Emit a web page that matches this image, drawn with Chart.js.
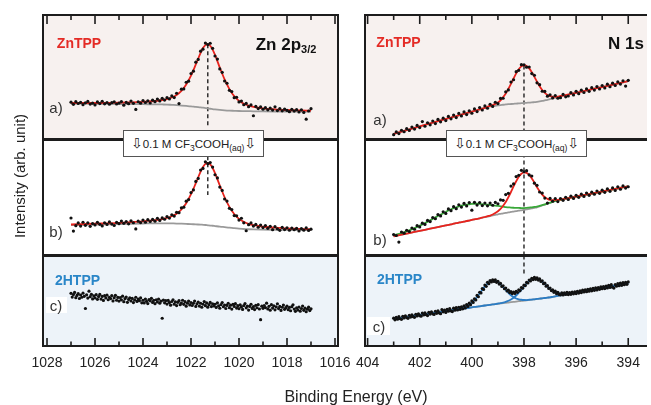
<!DOCTYPE html>
<html>
<head>
<meta charset="utf-8">
<script src="https://cdn.jsdelivr.net/npm/chart.js@4.4.1/dist/chart.umd.min.js"></script>
<style>
  body { margin: 0; background: #fff; }
  #fig { position: relative; width: 651px; height: 405px; overflow: hidden;
         font-family: "Liberation Sans", Arial, Helvetica, sans-serif; color: #222; }
  canvas { position: absolute; top: 0; }
  #leftChart { left: 0; }
  #rightChart { left: 345px; }
  .t { position: absolute; transform: translate(-50%, -50%); white-space: nowrap; line-height: 1; }
  .zn { color: #e42b25; font-weight: bold; font-size: 14px; }
  .h2 { color: #2a86c8; font-weight: bold; font-size: 14px; }
  .core { font-weight: bold; font-size: 17px; color: #111; }
  .core sub { font-size: 11px; vertical-align: -3px; line-height: 0; }
  .lab { font-size: 15px; color: #333; }
  .wbox { position: absolute; background: #fff; }
  .note { position: absolute; width: 141px; height: 27px; box-sizing: border-box; border: 1px solid #555;
          background: #fff; display: flex; align-items: center; justify-content: center;
          font-size: 11.5px; color: #222; white-space: nowrap; }
  .note span.txt { display: inline-block; line-height: 14px; }
  .note sub { font-size: 8.5px; vertical-align: -3px; line-height: 0; }
  .note .arr { font-family: "DejaVu Sans", sans-serif; font-size: 14px; }
</style>
</head>
<body>
<div id="fig">
  <canvas id="leftChart" width="360" height="405"></canvas>
  <canvas id="rightChart" width="306" height="405"></canvas>

  <div class="t zn" style="left:79px; top:42.5px;">ZnTPP</div>
  <div class="t core" style="left:286px; top:44px;">Zn 2p<sub>3/2</sub></div>
  <div class="t zn" style="left:398.5px; top:42px;">ZnTPP</div>
  <div class="t core" style="left:626px; top:43px;">N 1s</div>
  <div class="t h2" style="left:77.5px; top:280px;">2HTPP</div>
  <div class="t h2" style="left:399.5px; top:278.5px;">2HTPP</div>

  <div class="t lab" style="left:56px; top:107px;">a)</div>
  <div class="t lab" style="left:56px; top:231px;">b)</div>
  <div class="wbox" style="left:46px; top:297px; width:21px; height:16px;"></div>
  <div class="t lab" style="left:56px; top:305px;">c)</div>
  <div class="t lab" style="left:380px; top:119px;">a)</div>
  <div class="t lab" style="left:380px; top:239px;">b)</div>
  <div class="wbox" style="left:367px; top:317px; width:23px; height:18px;"></div>
  <div class="t lab" style="left:379px; top:325.5px;">c)</div>

  <div class="note" style="left:123px; top:130px;"><span class="txt"><span class="arr">⇩</span>0.1 M CF<sub>3</sub>COOH<sub>(aq)</sub><span class="arr">⇩</span></span></div>
  <div class="note" style="left:446px; top:130px;"><span class="txt"><span class="arr">⇩</span>0.1 M CF<sub>3</sub>COOH<sub>(aq)</sub><span class="arr">⇩</span></span></div>

  <div class="t" style="left:19px; top:176px; font-size:15px; transform:translate(-50%,-50%) rotate(-90deg);">Intensity (arb. unit)</div>
  <div class="t" style="left:356px; top:397px; font-size:16px;">Binding Energy (eV)</div>
</div>

<script>
const FONT = "'Liberation Sans', Arial, Helvetica, sans-serif";

// ---------- Zn 2p3/2 (left column) ----------
const znMajor = [1016, 1018, 1020, 1022, 1024, 1026, 1028];
const znMinor = [1017, 1019, 1021, 1023, 1025, 1027];

const znEnergy = [
  1027.0,1026.9,1026.8,1026.7,1026.6,1026.5,1026.4,1026.3,1026.2,1026.1,
  1026.0,1025.9,1025.8,1025.7,1025.6,1025.5,1025.4,1025.3,1025.2,1025.1,
  1025.0,1024.9,1024.8,1024.7,1024.6,1024.5,1024.4,1024.3,1024.2,1024.1,
  1024.0,1023.9,1023.8,1023.7,1023.6,1023.5,1023.4,1023.3,1023.2,1023.1,
  1023.0,1022.9,1022.8,1022.7,1022.6,1022.5,1022.4,1022.3,1022.2,1022.1,
  1022.0,1021.9,1021.8,1021.7,1021.6,1021.5,1021.4,1021.3,1021.2,1021.1,
  1021.0,1020.9,1020.8,1020.7,1020.6,1020.5,1020.4,1020.3,1020.2,1020.1,
  1020.0,1019.9,1019.8,1019.7,1019.6,1019.5,1019.4,1019.3,1019.2,1019.1,
  1019.0,1018.9,1018.8,1018.7,1018.6,1018.5,1018.4,1018.3,1018.2,1018.1,
  1018.0,1017.9,1017.8,1017.7,1017.6,1017.5,1017.4,1017.3,1017.2,1017.1,
  1017.0
];
// a) ZnTPP
const znA = [
  38.5,36.2,39.0,37.1,38.3,35.9,37.8,39.2,36.5,37.4,
  35.6,38.7,37.0,39.4,36.8,38.1,36.3,37.9,38.8,36.6,
  37.5,39.1,35.4,38.2,36.9,39.6,37.3,31.0,38.9,37.4,
  40.2,38.1,39.8,37.6,40.5,39.0,41.6,39.7,42.4,40.6,
  43.1,41.8,44.9,43.2,47.6,37.0,51.8,52.1,58.9,60.0,
  67.9,70.3,79.5,82.4,90.8,92.9,99.2,97.6,99.0,93.8,
  85.9,82.7,72.6,69.1,60.2,57.9,50.6,49.3,43.1,43.5,
  38.7,39.6,35.8,37.2,33.8,35.6,24.5,34.1,31.9,33.6,
  31.2,32.8,30.6,32.4,30.3,33.7,29.8,31.9,29.6,31.4,
  30.0,28.7,31.1,29.3,30.8,28.4,30.6,27.9,21.0,29.4,
  31.8
];
// b) ZnTPP after CF3COOH
const znB = [
  38.5,25.0,30.6,33.4,30.2,34.1,31.0,33.5,29.9,32.8,
  31.4,34.0,32.0,30.3,33.6,31.9,34.5,32.2,30.8,34.0,
  32.7,35.3,33.0,34.9,32.5,35.6,33.6,27.3,35.2,33.8,
  36.4,34.1,36.8,34.9,37.0,35.2,38.1,36.0,38.6,37.2,
  39.9,38.4,41.7,40.5,44.3,44.0,48.9,49.6,55.8,57.4,
  64.6,67.3,76.0,79.1,87.8,89.4,96.2,94.3,95.4,90.8,
  82.9,79.6,70.2,66.8,58.0,55.9,48.4,47.1,41.0,40.7,
  36.3,38.2,33.5,25.4,31.6,33.4,30.2,31.9,29.0,31.2,
  28.6,30.8,27.9,29.9,26.5,29.6,27.4,25.8,28.9,26.6,
  28.4,25.9,28.1,26.4,27.8,25.2,27.6,26.0,28.3,25.7,
  27.0
];
// c) 2HTPP
const znEnergyC = [
  1027,1026.95,1026.9,1026.85,1026.8,1026.75,1026.7,1026.65,1026.6,1026.55,1026.5,1026.45,1026.4,1026.35,1026.3,1026.25,1026.2,1026.15,1026.1,1026.05,
  1026,1025.95,1025.9,1025.85,1025.8,1025.75,1025.7,1025.65,1025.6,1025.55,1025.5,1025.45,1025.4,1025.35,1025.3,1025.25,1025.2,1025.15,1025.1,1025.05,
  1025,1024.95,1024.9,1024.85,1024.8,1024.75,1024.7,1024.65,1024.6,1024.55,1024.5,1024.45,1024.4,1024.35,1024.3,1024.25,1024.2,1024.15,1024.1,1024.05,
  1024,1023.95,1023.9,1023.85,1023.8,1023.75,1023.7,1023.65,1023.6,1023.55,1023.5,1023.45,1023.4,1023.35,1023.3,1023.25,1023.2,1023.15,1023.1,1023.05,
  1023,1022.95,1022.9,1022.85,1022.8,1022.75,1022.7,1022.65,1022.6,1022.55,1022.5,1022.45,1022.4,1022.35,1022.3,1022.25,1022.2,1022.15,1022.1,1022.05,
  1022,1021.95,1021.9,1021.85,1021.8,1021.75,1021.7,1021.65,1021.6,1021.55,1021.5,1021.45,1021.4,1021.35,1021.3,1021.25,1021.2,1021.15,1021.1,1021.05,
  1021,1020.95,1020.9,1020.85,1020.8,1020.75,1020.7,1020.65,1020.6,1020.55,1020.5,1020.45,1020.4,1020.35,1020.3,1020.25,1020.2,1020.15,1020.1,1020.05,
  1020,1019.95,1019.9,1019.85,1019.8,1019.75,1019.7,1019.65,1019.6,1019.55,1019.5,1019.45,1019.4,1019.35,1019.3,1019.25,1019.2,1019.15,1019.1,1019.05,
  1019,1018.95,1018.9,1018.85,1018.8,1018.75,1018.7,1018.65,1018.6,1018.55,1018.5,1018.45,1018.4,1018.35,1018.3,1018.25,1018.2,1018.15,1018.1,1018.05,
  1018,1017.95,1017.9,1017.85,1017.8,1017.75,1017.7,1017.65,1017.6,1017.55,1017.5,1017.45,1017.4,1017.35,1017.3,1017.25,1017.2,1017.15,1017.1,1017.05,
  1017
];
const znC = [
  54.1,50.3,52.8,55.0,49.6,51.9,53.7,48.8,52.4,50.1,54.3,51.0,38.5,52.6,49.2,56.3,50.7,53.1,48.4,51.6,
  49.5,52.7,47.9,50.8,53.0,48.2,50.9,46.8,51.7,49.3,52.2,47.5,50.0,48.7,51.8,46.3,49.6,52.1,47.0,49.9,
  46.1,49.8,47.4,51.2,45.5,48.6,50.3,44.9,47.8,49.5,46.2,48.9,44.6,47.3,50.1,45.8,48.2,46.6,49.4,44.3,
  47.0,44.2,48.3,45.9,43.6,47.7,46.4,49.0,44.8,46.9,43.5,47.5,45.2,48.1,43.9,46.0,28.5,47.2,44.4,46.7,
  43.1,46.8,44.6,41.9,45.7,47.4,43.0,45.3,41.5,44.9,46.6,42.4,44.1,47.0,42.8,45.5,40.9,44.0,46.2,42.2,
  44.7,41.6,43.8,46.1,40.7,43.3,45.2,41.0,43.9,39.8,42.9,45.6,41.4,44.2,39.9,42.6,44.8,40.5,43.4,41.1,
  42.9,39.6,44.3,41.2,38.8,42.5,44.6,40.3,42.0,38.5,41.7,43.9,39.4,41.9,37.9,42.8,40.6,43.5,39.0,41.4,
  38.3,42.2,40.1,37.6,41.5,43.6,39.2,41.0,36.9,40.7,42.9,38.6,40.4,37.4,41.8,39.3,42.4,38.0,27.0,40.9,
  38.7,41.6,39.5,44.0,38.1,40.8,36.8,42.5,39.0,41.3,37.2,40.2,43.4,38.4,40.6,36.5,39.8,42.0,37.7,39.4,
  41.0,37.3,39.6,36.2,40.4,42.3,37.9,35.6,39.1,37.0,40.0,35.8,38.5,41.1,36.6,38.9,35.2,37.8,39.9,36.4,
  38.2
];
// fitted envelopes and Shirley backgrounds
const znFitEnergy = [1027,1026,1025,1024.5,1024,1023.6,1023.2,1023,1022.8,1022.6,1022.4,1022.2,1022,1021.8,1021.6,1021.5,1021.4,1021.3,1021.2,1021.1,1021,1020.8,1020.6,1020.4,1020.2,1020,1019.8,1019.6,1019.4,1019,1018.5,1018,1017.5,1017];
const znAFit = [37.6,37.6,37.9,38.2,38.7,39.4,40.7,41.7,43.3,45.8,50.0,56.6,65.8,77.2,89.2,94.0,97.1,98.0,96.4,92.5,87.1,74.0,61.8,51.9,44.6,39.8,36.9,34.9,33.7,32.1,31.1,30.4,30.0,29.7];
const znABg  = [37.0,36.8,36.6,36.5,36.4,36.2,36.1,36.0,35.7,35.4,35.0,34.6,34.2,33.6,33.1,32.8,32.4,32.0,31.7,31.3,31.0,30.5,30.1,29.8,29.6,29.4,29.3,29.2,29.1,29.0,28.9,28.8,28.75,28.7];
const znBFit = [31.8,32.6,33.5,34.2,35.1,36.0,37.4,38.5,40.3,42.9,47.2,53.7,62.9,74.2,86.1,90.9,94.1,95.0,93.5,89.9,84.6,71.9,59.8,49.9,42.6,37.6,34.6,32.4,31.1,29.5,28.5,27.7,27.3,26.9];
const znBBg  = [31.3,31.8,32.3,32.55,32.8,33.0,33.0,33.0,32.9,32.8,32.6,32.4,32.2,31.9,31.7,31.5,31.3,31.0,30.7,30.5,30.2,29.6,29.1,28.6,28.0,27.5,27.2,26.9,26.7,26.5,26.35,26.2,26.1,26.0];
const znPeak = 1021.3;

// ---------- N 1s (right column) ----------
const nMajor = [394, 396, 398, 400, 402, 404];
const nMinor = [395, 397, 399, 401, 403];

const nEnergy = [
  403.0,402.9,402.8,402.7,402.6,402.5,402.4,402.3,402.2,402.1,
  402.0,401.9,401.8,401.7,401.6,401.5,401.4,401.3,401.2,401.1,
  401.0,400.9,400.8,400.7,400.6,400.5,400.4,400.3,400.2,400.1,
  400.0,399.9,399.8,399.7,399.6,399.5,399.4,399.3,399.2,399.1,
  399.0,398.9,398.8,398.7,398.6,398.5,398.4,398.3,398.2,398.1,
  398.0,397.9,397.8,397.7,397.6,397.5,397.4,397.3,397.2,397.1,
  397.0,396.9,396.8,396.7,396.6,396.5,396.4,396.3,396.2,396.1,
  396.0,395.9,395.8,395.7,395.6,395.5,395.4,395.3,395.2,395.1,
  395.0,394.9,394.8,394.7,394.6,394.5,394.4,394.3,394.2,394.1,
  394.0
];
const nA = [
  5.1,7.9,6.2,9.6,8.1,11.2,9.4,12.9,10.8,14.6,
  12.4,18.5,13.7,17.3,15.2,19.1,16.5,20.7,18.3,22.0,
  19.6,23.8,21.4,25.2,22.6,26.9,24.3,28.4,25.7,29.6,
  27.1,31.5,28.8,32.9,30.4,34.6,32.2,36.3,34.1,38.4,
  37.0,42.3,42.5,49.1,51.0,59.2,61.5,69.8,71.2,77.0,
  76.8,74.4,74.6,67.8,66.1,58.3,56.4,49.7,49.5,44.6,
  46.0,42.8,45.3,42.5,43.1,46.4,43.9,44.8,48.2,45.9,
  49.6,47.2,50.8,48.4,52.1,49.6,53.4,50.9,54.5,52.0,
  55.6,53.1,56.9,54.3,58.0,55.6,59.3,57.0,60.4,55.0,
  60.9
];
const nB = [
  21.5,20.5,13.8,24.1,22.9,25.9,24.6,28.2,26.9,30.6,
  29.3,33.2,31.9,36.0,34.8,38.9,37.7,42.0,40.6,44.9,
  43.2,47.8,46.0,50.1,48.1,52.0,49.7,53.5,50.9,54.3,
  46.5,54.6,51.8,54.4,51.2,53.9,51.0,53.8,51.6,54.5,
  53.1,57.0,56.6,62.5,63.8,71.3,73.5,81.0,82.4,87.5,
  86.0,87.1,82.7,81.6,74.3,72.0,65.2,64.1,58.9,53.8,
  58.6,55.7,58.4,55.4,58.5,56.6,59.7,57.5,60.9,58.6,
  61.8,59.7,63.0,60.6,64.1,61.8,65.0,62.9,66.2,63.8,
  67.1,64.9,68.3,65.9,69.4,66.8,70.5,68.0,71.4,69.2,
  70.6
];
const nEnergyC = [
  403,402.95,402.9,402.85,402.8,402.75,402.7,402.65,402.6,402.55,402.5,402.45,402.4,402.35,402.3,402.25,402.2,402.15,402.1,402.05,
  402,401.95,401.9,401.85,401.8,401.75,401.7,401.65,401.6,401.55,401.5,401.45,401.4,401.35,401.3,401.25,401.2,401.15,401.1,401.05,
  401,400.95,400.9,400.85,400.8,400.75,400.7,400.65,400.6,400.55,400.5,400.45,400.4,400.35,400.3,400.25,400.2,400.15,400.1,400.05,
  400,399.95,399.9,399.85,399.8,399.75,399.7,399.65,399.6,399.55,399.5,399.45,399.4,399.35,399.3,399.25,399.2,399.15,399.1,399.05,
  399,398.95,398.9,398.85,398.8,398.75,398.7,398.65,398.6,398.55,398.5,398.45,398.4,398.35,398.3,398.25,398.2,398.15,398.1,398.05,
  398,397.95,397.9,397.85,397.8,397.75,397.7,397.65,397.6,397.55,397.5,397.45,397.4,397.35,397.3,397.25,397.2,397.15,397.1,397.05,
  397,396.95,396.9,396.85,396.8,396.75,396.7,396.65,396.6,396.55,396.5,396.45,396.4,396.35,396.3,396.25,396.2,396.15,396.1,396.05,
  396,395.95,395.9,395.85,395.8,395.75,395.7,395.65,395.6,395.55,395.5,395.45,395.4,395.35,395.3,395.25,395.2,395.15,395.1,395.05,
  395,394.95,394.9,394.85,394.8,394.75,394.7,394.65,394.6,394.55,394.5,394.45,394.4,394.35,394.3,394.25,394.2,394.15,394.1,394.05,
  394
];
const nC = [
  28.6,26.9,29.4,27.6,30.1,28.0,27.4,30.5,28.8,31.0,29.2,28.4,31.5,29.7,32.0,30.1,29.5,32.6,30.8,33.1,
  31.2,30.6,33.8,31.9,34.0,32.2,31.3,34.6,32.8,35.0,33.1,32.4,35.7,33.6,36.1,34.0,33.2,37.3,35.1,36.9,
  34.5,37.6,35.8,38.3,36.0,35.4,38.9,36.8,39.4,37.0,39.8,37.6,40.3,38.2,41.2,39.1,42.5,40.6,44.0,42.4,
  46.3,44.8,48.5,47.3,51.9,50.6,55.2,54.5,59.0,58.1,62.6,61.3,65.4,64.0,67.3,65.8,68.0,66.3,67.9,65.4,
  66.5,63.6,64.3,61.2,61.9,58.8,59.6,56.6,57.3,54.9,55.8,53.8,55.4,54.0,56.2,55.1,57.8,56.9,60.0,59.4,
  62.5,62.1,65.3,64.7,67.8,66.8,69.6,68.2,70.4,68.5,70.1,67.7,68.9,66.3,67.0,64.0,64.5,61.5,62.0,59.1,
  59.6,56.9,57.7,55.1,56.3,53.7,55.2,53.0,52.6,54.7,52.4,54.6,52.9,55.0,52.8,54.9,53.1,55.4,53.6,55.7,
  53.9,56.2,54.4,56.6,54.9,57.3,55.5,57.6,55.8,58.2,56.3,58.6,56.7,59.1,57.2,59.8,57.6,60.0,58.2,60.7,
  58.8,61.0,59.0,61.6,59.7,62.3,60.2,63.0,60.4,59.5,63.1,61.4,64.0,62.0,64.5,62.3,65.0,63.0,65.4,63.4,
  65.8
];
const nFitEnergy = [
  403,402.6,402.2,401.8,401.4,401,
  400.9,400.8,400.7,400.6,400.5,400.4,400.3,400.2,400.1,400,
  399.9,399.8,399.7,399.6,399.5,399.4,399.3,399.2,399.1,399,
  398.9,398.8,398.7,398.6,398.5,398.4,398.3,398.2,398.1,398,
  397.9,397.8,397.7,397.6,397.5,397.4,397.3,397.2,397.1,397,
  396.9,396.8,396.7,396.6,396.5,396.4,396.3,396.2,396.1,396,
  395.5,395,394.5,394
];
const nAFit = [
  6.0,9.0,12.1,15.1,18.2,21.2,
  22.0,22.7,23.5,24.2,25.0,25.8,26.5,27.3,28.0,28.8,
  29.6,30.3,31.1,31.8,32.7,33.7,34.6,35.5,36.7,38.2,
  40.4,43.6,47.4,52.1,57.3,62.8,68.0,72.3,75.2,76.4,
  75.6,73.1,69.2,64.5,59.5,54.9,51.0,48.1,45.9,44.7,
  44.2,44.0,44.2,44.8,45.2,45.7,46.3,46.9,47.5,48.1,
  51.1,54.0,57.0,60.0
];
const nABg = [
  6.0,9.0,12.1,15.1,18.2,21.2,
  22.0,22.7,23.5,24.2,25.0,25.8,26.5,27.3,28.0,28.8,
  29.6,30.3,31.1,31.8,32.6,33.4,34.1,34.5,34.8,35.1,
  35.4,35.8,36.1,36.4,36.6,36.8,37.0,37.2,37.4,37.6,
  37.8,38.0,38.2,38.5,38.8,39.2,39.7,40.3,40.9,41.6,
  42.3,43.0,43.7,44.5,45.1,45.7,46.3,46.9,47.5,48.1,
  51.1,54.0,57.0,60.0
];
const nBFit = [
  19.7,21.9,24.2,26.4,28.7,30.9,
  31.5,32.0,32.6,33.1,33.7,34.3,34.8,35.4,35.9,36.5,
  37.1,37.7,38.2,38.8,39.5,40.3,41.0,42.1,43.6,45.4,
  47.8,51.0,54.9,59.8,65.2,70.9,76.2,80.8,83.9,85.3,
  84.8,82.7,79.1,74.8,70.0,66.0,62.5,59.9,58.1,57.1,
  56.9,57.0,57.1,57.5,57.8,58.3,58.9,59.4,59.9,60.5,
  63.1,65.7,68.3,71.0
];
const nBGreen = [
  20.6,23.8,28.1,33.2,39.1,44.7,
  46.2,47.4,48.5,49.5,50.4,51.2,51.8,52.3,52.6,52.9,
  53.0,53.1,52.9,52.6,52.5,52.1,51.8,51.5,51.1,50.9,
  50.5,50.1,49.6,49.4,49.2,49.0,48.8,48.8,48.7,48.7,
  48.9,49.2,49.5,49.9,50.2,50.9,51.7,52.5,53.3,54.2,
  55.1,56.1,56.6,57.2,57.8,58.3,58.9,59.4,59.9,60.5,
  63.1,65.7,68.3,71.0
];
const nBBg = [
  19.7,21.9,24.2,26.4,28.7,30.9,
  31.5,32.0,32.6,33.1,33.7,34.3,34.8,35.4,35.9,36.5,
  37.1,37.7,38.2,38.8,39.4,40.0,40.5,41.1,41.7,42.3,
  42.8,43.3,43.7,44.2,44.7,45.1,45.5,46.0,46.4,46.8,
  47.3,47.9,48.4,49.0,49.5,50.4,51.3,52.2,53.1,54.0,
  55.0,56.0,56.6,57.2,57.8,58.3,58.9,59.4,59.9,60.5,
  63.1,65.7,68.3,71.0
];
const nCBlueL = [
  27.9,29.5,31.1,32.7,34.2,35.8,
  36.2,36.6,37.1,37.6,38.1,38.8,39.7,40.9,42.5,44.6,
  47.2,50.3,53.9,57.7,61.2,64.0,66.2,67.2,66.9,65.5,
  63.3,60.5,57.5,54.6,52.1,50.2,48.8,48.0,47.5,47.25,
  47.2,47.5,47.7,48.0,48.3,48.6,49.0,49.3,49.7,50.0,
  50.5,51.0,51.5,52.0,52.5,53.0,53.4,53.9,54.3,54.8,
  57.2,59.6,62.0,64.5
];
const nCBlueR = [
  27.9,29.5,31.1,32.7,34.2,35.8,
  36.2,36.6,37.0,37.4,37.8,38.1,38.5,38.9,39.3,39.7,
  40.1,40.4,40.8,41.2,41.6,41.9,42.3,42.7,43.1,43.55,
  44.0,44.55,45.4,46.5,47.75,49.6,51.9,54.7,57.7,60.9,
  64.1,66.7,68.5,69.5,69.2,68.0,66.2,63.6,61.1,58.7,
  56.8,55.3,54.25,53.8,53.5,53.55,53.7,54.05,54.4,54.8,
  57.2,59.6,62.0,64.5
];
const nCBg = [
  27.9,29.5,31.1,32.7,34.2,35.8,
  36.2,36.6,37.0,37.4,37.8,38.1,38.5,38.9,39.3,39.7,
  40.1,40.4,40.8,41.2,41.6,41.9,42.3,42.7,43.0,43.4,
  43.7,44.0,44.4,44.7,45.0,45.3,45.6,46.0,46.3,46.6,
  46.9,47.3,47.6,48.0,48.3,48.6,49.0,49.3,49.7,50.0,
  50.5,51.0,51.5,52.0,52.5,53.0,53.4,53.9,54.3,54.8,
  57.2,59.6,62.0,64.5
];
const nPeak = 398.0;

// panel heights (arb. units, one per stacked axis)
const panelRange = { ya: 128, yb: 119, yc: 93 };

// ---------- helpers ----------
const RED = '#e8231d', GRAY = '#9a9a9a', GREEN = '#3aa83a', BLUE = '#2b7cc4';

function pts(xs, ys) {
  return xs.map((x, i) => ({ x: x, y: ys[i] }));
}
function dots(xs, ys, axis) {
  return { data: pts(xs, ys), yAxisID: axis, showLine: false, pointRadius: 1.6,
           pointBackgroundColor: '#111', pointBorderWidth: 0, order: 0 };
}
function curve(xs, ys, axis, color, order) {
  return { data: pts(xs, ys), yAxisID: axis, showLine: true, pointRadius: 0,
           borderColor: color, borderWidth: 1.8, cubicInterpolationMode: 'monotone', order: order };
}
function dashed(x, y0, y1, axis) {
  return { data: [{ x: x, y: y0 }, { x: x, y: y1 }], yAxisID: axis, showLine: true, pointRadius: 0,
           borderColor: '#111', borderWidth: 1.3, borderDash: [4, 3], order: 5 };
}

// backgrounds, frame, inner tick marks and panel dividers
const panelPlugin = {
  id: 'panels',
  beforeDraw(chart, args, opts) {
    const { ctx, chartArea: ca } = chart;
    ctx.save();
    ['ya', 'yb', 'yc'].forEach((id, i) => {
      const s = chart.scales[id];
      ctx.fillStyle = opts.fills[i];
      ctx.fillRect(ca.left, s.top, ca.right - ca.left, s.bottom - s.top);
    });
    ctx.restore();
  },
  afterDatasetsDraw(chart, args, opts) {
    const { ctx, chartArea: ca, scales } = chart;
    const x = scales.x;
    const seg = (x1, y1, x2, y2) => { ctx.beginPath(); ctx.moveTo(x1, y1); ctx.lineTo(x2, y2); ctx.stroke(); };
    ctx.save();
    ctx.strokeStyle = '#1c1c1c';
    ctx.lineWidth = 1.6;
    opts.major.forEach(v => {
      const p = x.getPixelForValue(v);
      seg(p, ca.top, p, ca.top + 9);
      seg(p, ca.bottom, p, ca.bottom - 8);
    });
    opts.minor.forEach(v => {
      const p = x.getPixelForValue(v);
      seg(p, ca.top, p, ca.top + 5);
      seg(p, ca.bottom, p, ca.bottom - 4.5);
    });
    ctx.lineWidth = 3;
    seg(ca.left, scales.yb.top, ca.right, scales.yb.top);
    seg(ca.left, scales.yc.top, ca.right, scales.yc.top);
    ctx.lineWidth = 2;
    seg(ca.left, ca.top, ca.right, ca.top);
    seg(ca.left, ca.bottom, ca.right, ca.bottom);
    seg(ca.left, ca.top - 1, ca.left, ca.bottom + 1);
    if (opts.rightBorder) seg(ca.right, ca.top - 1, ca.right, ca.bottom + 1);
    ctx.restore();
  }
};

function yScale(id, weight) {
  return { type: 'linear', position: 'left', stack: 'panels', stackWeight: panelRange[id], weight: weight,
           min: 0, max: panelRange[id], ticks: { display: false },
           grid: { display: false, drawTicks: false }, border: { display: false } };
}

function makeChart(canvasId, cfg) {
  return new Chart(document.getElementById(canvasId), {
    type: 'scatter',
    data: { datasets: cfg.datasets },
    options: {
      responsive: false,
      animation: false,
      events: [],
      layout: { padding: cfg.padding },
      plugins: {
        legend: { display: false },
        tooltip: { enabled: false },
        panels: { fills: ['#f7f1ef', '#ffffff', '#edf3f9'], major: cfg.major, minor: cfg.minor, rightBorder: cfg.rightBorder }
      },
      scales: {
        x: {
          type: 'linear', reverse: true, min: cfg.xMin, max: cfg.xMax,
          afterBuildTicks: s => { s.ticks = cfg.major.map(v => ({ value: v })); },
          ticks: { autoSkip: false, maxRotation: 0, padding: 9, color: '#222',
                   font: { family: FONT, size: 14 }, callback: v => String(v) },
          grid: { display: false, drawTicks: false },
          border: { display: false }
        },
        ya: yScale('ya', 3),
        yb: yScale('yb', 2),
        yc: yScale('yc', 1)
      }
    },
    plugins: [panelPlugin]
  });
}

makeChart('leftChart', {
  xMin: 1015.875, xMax: 1028.167,
  major: znMajor, minor: znMinor, rightBorder: true,
  padding: { left: 43, right: 22, top: 15, bottom: 24.2 },
  datasets: [
    dots(znEnergy, znA, 'ya'),
    dots(znEnergy, znB, 'yb'),
    dots(znEnergyC, znC, 'yc'),
    curve(znFitEnergy, znAFit, 'ya', RED, 1),
    curve(znFitEnergy, znBFit, 'yb', RED, 1),
    curve(znFitEnergy, znABg, 'ya', GRAY, 3),
    curve(znFitEnergy, znBBg, 'yb', GRAY, 3),
    dashed(znPeak, 98, 12, 'ya'),
    dashed(znPeak, 102, 62, 'yb')
  ]
});

makeChart('rightChart', {
  xMin: 393.28, xMax: 404.1,
  major: nMajor, minor: nMinor, rightBorder: false,
  padding: { left: 20, right: 0, top: 15, bottom: 24.2 },
  datasets: [
    dots(nEnergy, nA, 'ya'),
    dots(nEnergy, nB, 'yb'),
    dots(nEnergyC, nC, 'yc'),
    curve(nFitEnergy, nAFit, 'ya', RED, 1),
    curve(nFitEnergy, nBFit, 'yb', RED, 1),
    curve(nFitEnergy, nBGreen, 'yb', GREEN, 2),
    curve(nFitEnergy, nCBlueL, 'yc', BLUE, 2),
    curve(nFitEnergy, nCBlueR, 'yc', BLUE, 2),
    curve(nFitEnergy, nABg, 'ya', GRAY, 3),
    curve(nFitEnergy, nBBg, 'yb', GRAY, 3),
    curve(nFitEnergy, nCBg, 'yc', GRAY, 3),
    dashed(nPeak, 76, 0, 'ya'),
    dashed(nPeak, 119, 0, 'yb'),
    dashed(nPeak, 93, 72, 'yc')
  ]
});
</script>
</body>
</html>
